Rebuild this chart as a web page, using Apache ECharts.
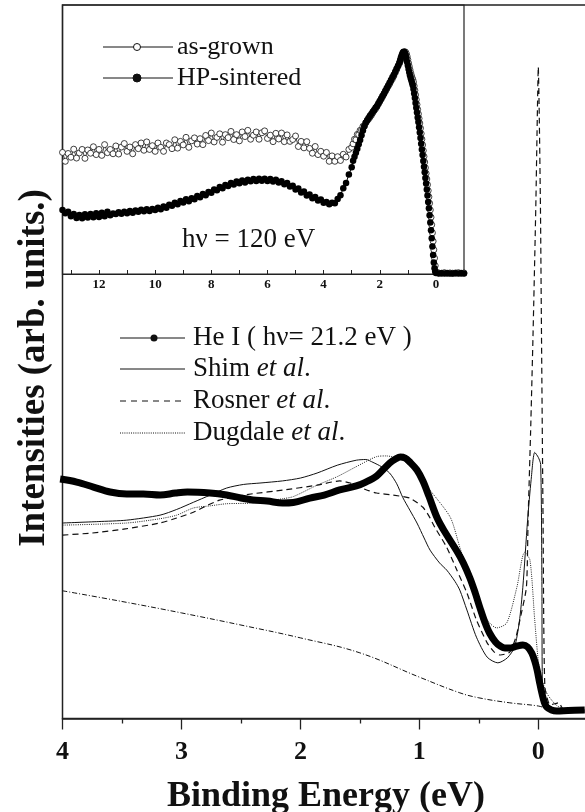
<!DOCTYPE html>
<html>
<head>
<meta charset="utf-8">
<script src="https://cdn.jsdelivr.net/npm/echarts@6/dist/echarts.min.js"></script>
<style>html,body{margin:0;padding:0;background:#fff}#c{width:585px;height:812px}</style>
</head>
<body>
<div id="c"></div>
<script>
// ---------- main panel (He I and calculations) ----------
const mainTickLabels = [0, 1, 2, 3, 4];
const heIEnergy = [4.02,3.88,3.74,3.60,3.46,3.32,3.18,3.05,2.95,2.76,2.62,2.50,2.40,2.28,2.15,2.06,1.92,1.80,1.67,1.53,1.45,1.36,1.30,1.25,1.20,1.16,1.12,1.08,1.02,0.97,0.92,0.85,0.78,0.685,0.63,0.575,0.53,0.49,0.45,0.41,0.36,0.32,0.28,0.24,0.18,0.13,0.09,0.055,0.03,0.01,-0.01,-0.03,-0.05,-0.07,-0.11,-0.155,-0.25,-0.39];
const heI = [33.56,33.14,32.44,31.74,31.46,31.46,31.32,31.60,31.74,31.60,31.32,30.90,30.62,30.48,30.20,30.27,30.90,31.32,32.03,32.59,33.14,33.98,34.96,35.80,36.37,36.65,36.51,35.94,34.82,33.28,31.18,28.10,25.99,23.47,21.79,19.69,17.59,15.49,13.53,11.98,10.72,10.16,9.88,9.88,10.16,10.30,10.02,9.18,8.06,6.80,5.12,3.57,2.31,1.61,1.19,1.05,1.12,1.19];

const shimEnergy = [4.0,3.7,3.46,3.18,3.04,2.9,2.76,2.62,2.48,2.34,2.15,2.0,1.86,1.69,1.53,1.45,1.39,1.32,1.25,1.19,1.14,1.08,1.02,0.96,0.91,0.83,0.77,0.70,0.66,0.60,0.52,0.43,0.34,0.26,0.20,0.16,0.13,0.09,0.06,0.03,0.0,-0.02,-0.03,-0.035,-0.07,-0.15,-0.39];
const shim = [27.4,27.6,27.8,28.5,29.3,30.3,31.3,32.3,32.8,33.0,33.3,33.7,34.4,35.5,36.2,36.3,35.9,35.3,34.4,32.9,31.0,29.2,27.4,25.3,23.6,21.8,20.8,19.2,18.0,15.2,11.4,8.6,7.8,8.5,10.0,13.5,18.4,27.8,33.5,37.3,36.6,35.6,20.0,4.0,2.2,1.3,1.05];

const rosnerEnergy = [4.0,3.75,3.46,3.18,3.04,2.9,2.78,2.68,2.55,2.4,2.15,1.86,1.67,1.58,1.5,1.42,1.36,1.22,1.08,0.97,0.92,0.87,0.77,0.685,0.6,0.52,0.43,0.37,0.32,0.24,0.19,0.155,0.1,0.086,0.065,0.044,0.021,0.007,0.0,-0.007,-0.018,-0.027,-0.04,-0.055,-0.1,-0.17,-0.22,-0.39];
const rosner = [25.7,26.0,26.6,27.4,28.1,28.9,29.9,30.6,31.1,31.5,32.0,32.7,33.3,33.0,32.4,31.9,31.6,31.3,30.9,29.6,28.4,26.8,24.0,20.8,17.6,13.8,10.6,9.3,8.9,9.3,11.3,13.8,18.4,27.8,40.0,54.0,71.7,85.7,91.3,85.7,71.7,53.5,27.8,4.5,1.9,2.2,1.05,0.9];

const dugdaleEnergy = [4.0,3.46,3.18,3.04,2.9,2.76,2.62,2.4,2.15,2.06,1.86,1.69,1.53,1.36,1.28,1.14,1.02,0.91,0.74,0.66,0.575,0.49,0.41,0.35,0.265,0.18,0.115,0.07,0.03,-0.01,-0.07,-0.15,-0.25,-0.39];
const dugdale = [27.1,27.4,28.0,28.5,29.5,29.8,30.1,30.2,30.8,31.1,32.7,33.9,35.3,36.7,36.8,36.2,34.4,32.0,28.2,24.0,19.8,15.6,13.4,12.7,13.4,18.4,23.3,22.2,13.8,6.8,3.6,1.9,1.05,0.9];

const bgEnergy = [4.0,3.5,3.0,2.5,2.0,1.5,1.0,0.66,0.5,0.24,0.0,-0.1,-0.39];
const background = [17.9,16.4,14.8,13.1,11.3,9.2,5.8,3.6,2.9,2.2,1.75,1.3,1.2];

// ---------- inset (hv = 120 eV) ----------
const insetTickLabels = [0, 2, 4, 6, 8, 10, 12];
const insetEnergy = [
13.3,13.2,13.1,13.0,12.9,12.8,12.7,12.6,12.5,12.4,12.3,12.2,12.1,12.0,11.9,11.8,11.7,11.6,11.5,11.4,
11.3,11.2,11.1,11.0,10.9,10.8,10.7,10.6,10.5,10.4,10.3,10.2,10.1,10.0,9.9,9.8,9.7,9.6,9.5,9.4,
9.3,9.2,9.1,9.0,8.9,8.8,8.7,8.6,8.5,8.4,8.3,8.2,8.1,8.0,7.9,7.8,7.7,7.6,7.5,7.4,
7.3,7.2,7.1,7.0,6.9,6.8,6.7,6.6,6.5,6.4,6.3,6.2,6.1,6.0,5.9,5.8,5.7,5.6,5.5,5.4,
5.3,5.2,5.1,5.0,4.9,4.8,4.7,4.6,4.5,4.4,4.3,4.2,4.1,4.0,3.9,3.8,3.7,3.6,3.5,3.4,
3.3,3.2,3.1,3.0,
2.95,2.9,2.85,2.8,2.75,2.7,2.65,2.6,2.55,2.5,2.45,2.4,2.35,2.3,2.25,2.2,2.15,2.1,2.05,2.0,
1.95,1.9,1.85,1.8,1.75,1.7,1.65,1.6,1.55,1.5,1.45,1.4,1.35,1.3,
1.275,1.25,1.225,1.2,1.175,1.15,1.125,1.1,1.075,1.05,1.025,1.0,0.975,0.95,0.925,0.9,0.875,0.85,0.825,0.8,
0.775,0.75,0.725,0.7,0.675,0.65,0.625,0.6,0.575,0.55,0.525,0.5,0.475,0.45,0.425,0.4,0.375,0.35,0.325,0.3,
0.275,0.25,0.225,0.2,0.175,0.15,0.125,0.1,0.075,0.05,0.025,0.0,
-0.1,-0.2,-0.3,-0.4,-0.5,-0.6,-0.7,-0.8,-0.9,-1.0];
const asGrown = [
45.2,41.9,44.8,43.4,46.4,43.1,45.0,46.3,43.0,46.1,44.9,47.3,44.4,46.3,44.1,48.1,45.1,46.3,44.7,47.6,
44.6,47.2,48.5,45.6,47.2,44.7,48.1,46.6,48.7,46.0,49.1,46.3,47.7,45.6,48.7,47.1,45.6,48.7,48.1,46.6,
49.9,46.8,49.3,48.0,50.8,47.1,49.5,50.6,48.3,50.3,48.1,51.5,49.6,52.4,49.1,50.8,52.1,49.0,51.8,50.7,
53.0,50.0,51.8,49.5,52.8,51.1,53.4,50.1,51.6,52.8,50.1,52.5,53.2,50.4,51.6,49.2,52.3,50.2,52.4,49.2,
51.7,49.3,50.0,51.3,47.4,49.3,46.9,49.2,46.7,44.9,47.4,44.4,45.6,43.8,45.2,41.9,43.9,41.9,43.6,42.2,
44.5,43.5,46.3,47.1,
48.4,50.1,49.9,51.9,51.8,53.4,53.5,54.9,55.0,56.2,56.9,57.6,58.3,59.0,59.9,60.7,61.4,62.2,63.2,64.1,
65.0,66.0,66.9,67.9,68.8,69.8,70.7,71.7,72.6,73.6,74.8,76.0,77.2,78.3,
79.0,79.8,80.5,81.1,81.6,82.1,82.4,82.6,82.4,81.8,80.9,79.7,78.4,77.2,76.0,74.9,73.9,73.0,72.3,71.4,
69.9,68.3,66.6,64.8,63.0,61.2,59.5,57.8,56.1,54.2,52.2,50.1,48.0,45.9,43.7,41.6,39.5,37.4,35.3,33.2,
31.0,28.7,26.3,23.8,21.1,18.3,15.3,12.2,9.0,5.9,3.1,0.8,
0.4,0.3,0.5,0.3,0.4,0.3,0.4,0.5,0.3,0.4];
const hpSintered = [
23.8,22.6,23.1,21.5,22.3,20.8,21.9,20.7,22.2,21.0,22.3,21.1,22.6,21.2,22.8,21.5,23.1,21.8,22.5,22.3,
23.0,22.4,23.1,22.6,23.4,22.8,23.6,23.1,23.9,23.3,24.1,23.4,24.2,23.8,24.6,24.1,25.1,24.6,25.7,25.4,
26.5,25.9,27.1,26.6,27.8,27.0,28.2,27.8,29.0,28.5,29.7,29.3,30.5,30.2,31.4,31.1,32.3,31.9,33.1,32.7,
33.8,33.3,34.4,33.7,34.8,34.0,35.0,34.5,35.3,34.6,35.4,34.7,35.4,34.6,35.3,34.4,35.0,34.0,34.5,33.4,
33.8,32.5,32.8,31.4,31.8,30.3,30.7,29.2,29.6,28.2,28.6,27.3,27.7,26.5,26.8,25.9,26.5,26.3,27.9,29.3,
31.9,33.8,37.0,39.7,
42.1,43.6,45.1,46.6,48.2,49.8,51.6,53.3,54.9,56.2,57.2,58.0,58.8,59.5,60.3,61.0,61.8,62.5,63.4,64.3,
65.2,66.2,67.1,68.1,69.1,70.1,71.1,72.1,73.1,74.1,75.2,76.3,77.4,78.5,
79.4,80.3,81.1,81.8,82.3,82.6,82.5,82.0,81.2,80.1,78.8,77.5,76.2,75.0,73.9,72.9,72.0,71.1,70.2,68.8,
67.1,65.4,63.6,61.8,60.0,58.2,56.5,54.6,52.6,50.6,48.4,46.3,44.2,42.0,39.9,37.8,35.7,33.6,31.4,29.2,
26.8,24.4,21.8,19.1,16.3,13.3,10.2,7.1,4.3,2.1,0.9,0.4,
0.2,0.3,0.2,0.3,0.2,0.2,0.3,0.2,0.3,0.2];

const zip = (xs, ys) => xs.map((x, i) => [x, ys[i]]);
const SERIF = '"Liberation Serif", "Times New Roman", serif';
const INK = '#111';

const chart = echarts.init(document.getElementById('c'), null, {renderer: 'canvas'});

const richEtAl = {a: {font: '27px ' + SERIF, fill: INK}, b: {font: 'italic 27px ' + SERIF, fill: INK}};
const graphics = [
  {type: 'text', x: 34, y: 368, rotation: Math.PI / 2,
   style: {text: 'Intensities (arb. units.)', fill: INK, font: 'bold 37px ' + SERIF, align: 'center', verticalAlign: 'middle'}},
  {type: 'text', x: 326, y: 797,
   style: {text: 'Binding Energy (eV)', fill: INK, font: 'bold 36px ' + SERIF, align: 'center', verticalAlign: 'middle'}},
  // inset legend
  {type: 'line', shape: {x1: 103, y1: 47, x2: 173, y2: 47}, style: {stroke: INK, lineWidth: 1}},
  {type: 'circle', shape: {cx: 137, cy: 47, r: 3.5}, style: {fill: '#fff', stroke: INK, lineWidth: 1}},
  {type: 'text', x: 177, y: 47, style: {text: 'as-grown', fill: INK, font: '26px ' + SERIF, align: 'left', verticalAlign: 'middle'}},
  {type: 'line', shape: {x1: 103, y1: 78, x2: 173, y2: 78}, style: {stroke: INK, lineWidth: 1}},
  {type: 'circle', shape: {cx: 137, cy: 78, r: 4}, style: {fill: INK, stroke: INK, lineWidth: 1}},
  {type: 'text', x: 177, y: 78, style: {text: 'HP-sintered', fill: INK, font: '26px ' + SERIF, align: 'left', verticalAlign: 'middle'}},
  {type: 'text', x: 182, y: 240, style: {text: 'h\u03bd = 120 eV', fill: INK, font: '27px ' + SERIF, align: 'left', verticalAlign: 'middle'}},
  // main legend
  {type: 'line', shape: {x1: 120, y1: 338, x2: 185, y2: 338}, style: {stroke: INK, lineWidth: 1}},
  {type: 'circle', shape: {cx: 154, cy: 338, r: 3.5}, style: {fill: INK}},
  {type: 'text', x: 193, y: 338, style: {text: 'He I ( h\u03bd= 21.2 eV )', fill: INK, font: '27px ' + SERIF, align: 'left', verticalAlign: 'middle'}},
  {type: 'line', shape: {x1: 120, y1: 369, x2: 185, y2: 369}, style: {stroke: INK, lineWidth: 1}},
  {type: 'text', x: 193, y: 369, style: {text: '{a|Shim }{b|et al}{a|.}', fill: INK, align: 'left', verticalAlign: 'middle', rich: richEtAl}},
  {type: 'line', shape: {x1: 120, y1: 401, x2: 185, y2: 401}, style: {stroke: INK, lineWidth: 1, lineDash: [6, 5]}},
  {type: 'text', x: 193, y: 401, style: {text: '{a|Rosner }{b|et al}{a|.}', fill: INK, align: 'left', verticalAlign: 'middle', rich: richEtAl}},
  {type: 'line', shape: {x1: 120, y1: 433, x2: 185, y2: 433}, style: {stroke: INK, lineWidth: 1, lineDash: [1, 1.2]}},
  {type: 'text', x: 193, y: 433, style: {text: '{a|Dugdale }{b|et al}{a|.}', fill: INK, align: 'left', verticalAlign: 'middle', rich: richEtAl}}
];

const option = {
  animation: false,
  backgroundColor: '#fff',
  grid: [
    {left: 62.5, top: 5, bottom: 93.5, width: 594.75, containLabel: false, outerBoundsMode: 'none',
     show: true, borderColor: '#222', borderWidth: 1.5, backgroundColor: 'transparent'},
    {left: 62.5, top: 5, right: 121, bottom: 538, containLabel: false, outerBoundsMode: 'none',
     show: true, borderColor: '#222', borderWidth: 1.2, backgroundColor: 'transparent'}
  ],
  xAxis: [
    {type: 'value', gridIndex: 0, min: -1, max: 4, interval: 1, inverse: true,
     axisLine: {show: true, lineStyle: {color: '#222', width: 1.5}},
     axisTick: {show: true, inside: false, length: 11, lineStyle: {color: '#222', width: 1.3}},
     minorTick: {show: true, splitNumber: 2, length: 5, lineStyle: {color: '#222', width: 1.3}},
     splitLine: {show: false},
     axisLabel: {margin: 21, color: INK, fontFamily: SERIF, fontWeight: 'bold', fontSize: 26,
       formatter: v => mainTickLabels.indexOf(Math.round(v)) >= 0 && Math.abs(v - Math.round(v)) < 1e-6 ? String(Math.round(v)) : ''}},
    {type: 'value', gridIndex: 1, min: -1, max: 13.3, interval: 1, inverse: true,
     axisLine: {show: true, lineStyle: {color: '#222', width: 1.2}},
     axisTick: {show: true, inside: true, length: 4, lineStyle: {color: '#222', width: 1}},
     splitLine: {show: false},
     axisLabel: {margin: 4, color: INK, fontFamily: SERIF, fontWeight: 'bold', fontSize: 13, showMinLabel: true, showMaxLabel: true,
       formatter: v => (Math.abs(v - Math.round(v)) < 1e-6 && insetTickLabels.indexOf(Math.round(v)) >= 0) ? String(Math.round(v)) : ''}}
  ],
  yAxis: [
    {type: 'value', gridIndex: 0, min: 0, max: 100, show: false, splitLine: {show: false}},
    {type: 'value', gridIndex: 1, min: 0, max: 100, show: false, splitLine: {show: false}}
  ],
  series: [
    {name: 'background', type: 'line', xAxisIndex: 0, yAxisIndex: 0, data: zip(bgEnergy, background), showSymbol: false, smooth: 0.4,
     lineStyle: {color: INK, width: 1, type: [5, 2, 1, 2]}},
    {name: 'Shim et al.', type: 'line', xAxisIndex: 0, yAxisIndex: 0, data: zip(shimEnergy, shim), showSymbol: false, smooth: 0.25,
     lineStyle: {color: INK, width: 1}},
    {name: 'Rosner et al.', type: 'line', xAxisIndex: 0, yAxisIndex: 0, data: zip(rosnerEnergy, rosner), showSymbol: false, smooth: 0.2,
     lineStyle: {color: INK, width: 1.2, type: [6, 4]}},
    {name: 'Dugdale et al.', type: 'line', xAxisIndex: 0, yAxisIndex: 0, data: zip(dugdaleEnergy, dugdale), showSymbol: false, smooth: 0.25,
     lineStyle: {color: '#222', width: 1, type: [1, 1.2]}},
    {name: 'He I', type: 'line', xAxisIndex: 0, yAxisIndex: 0, data: zip(heIEnergy, heI), showSymbol: false, smooth: 0.35,
     lineStyle: {color: '#000', width: 7}},
    {name: 'as-grown', type: 'line', xAxisIndex: 1, yAxisIndex: 1, data: zip(insetEnergy, asGrown), showSymbol: true, showAllSymbol: true,
     symbol: 'circle', symbolSize: 6, itemStyle: {color: '#fff', borderColor: INK, borderWidth: 0.8},
     lineStyle: {color: INK, width: 0.8}},
    {name: 'HP-sintered', type: 'line', xAxisIndex: 1, yAxisIndex: 1, data: zip(insetEnergy, hpSintered), showSymbol: true, showAllSymbol: true,
     symbol: 'circle', symbolSize: 6.5, itemStyle: {color: '#000', borderColor: '#000', borderWidth: 0},
     lineStyle: {color: '#000', width: 1}}
  ],
  graphic: graphics
};
chart.setOption(option);
</script>
</body>
</html>
